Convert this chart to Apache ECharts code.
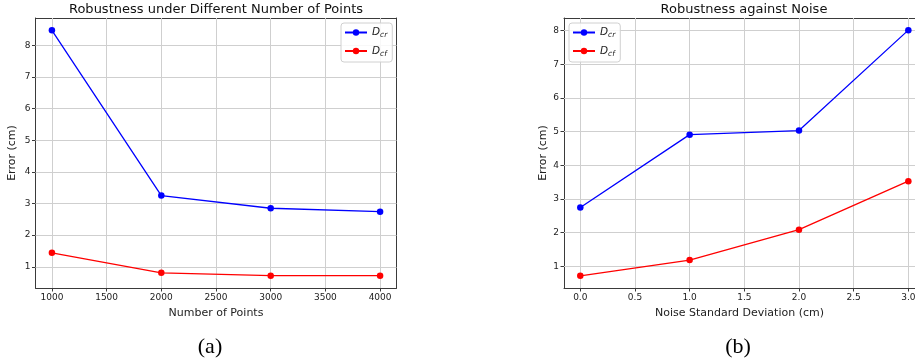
<!DOCTYPE html>
<html>
<head>
<meta charset="utf-8">
<script src="https://cdn.jsdelivr.net/npm/echarts@6/dist/echarts.min.js"></script>
<style>html,body{margin:0;padding:0;background:#fff;}#c{width:915px;height:362px;}</style>
</head>
<body>
<div id="c"></div>
<script>
const pointsX = [1000, 2000, 3000, 4000];
const pointsDcr = [8.47, 3.25, 2.85, 2.74];
const pointsDcf = [1.44, 0.81, 0.72, 0.72];
const noiseX = [0, 1, 2, 3];
const noiseDcr = [2.75, 4.91, 5.03, 8.01];
const noiseDcf = [0.72, 1.19, 2.09, 3.53];
const xTicksA = [1000, 1500, 2000, 2500, 3000, 3500, 4000];
const xTicksB = [0, 0.5, 1.0, 1.5, 2.0, 2.5, 3.0];
const yTicks = [1, 2, 3, 4, 5, 6, 7, 8];
const seriesNames = ['D_cr', 'D_cf'];
const titles = ['Robustness under Different Number of Points', 'Robustness against Noise'];
const xNames = ['Number of Points', 'Noise Standard Deviation (cm)'];
const yName = 'Error (cm)';
const captions = ['(a)', '(b)'];

const FONT = 'DejaVu Sans';
const SPINE = '#3a3a3a';
const GRIDC = '#cfcfcf';
const grids = [
  {left: 35.5, top: 18, width: 361, height: 270, outerBoundsMode: 'none', containLabel: false},
  {left: 564, top: 18, width: 351, height: 270, outerBoundsMode: 'none', containLabel: false}
];
const xRanges = [[850, 4150], [-0.149, 3.061]];
const yRanges = [[0.33, 8.86], [0.36, 8.37]];
function xAxis(i, ticks, fmt) {
  return {
    type: 'value', gridIndex: i, min: xRanges[i][0], max: xRanges[i][1], position: 'bottom',
    name: xNames[i], nameLocation: 'middle', nameGap: 20,
    nameTextStyle: {fontFamily: FONT, fontSize: 11, color: '#222'},
    axisLine: {show: true, onZero: false, lineStyle: {color: SPINE, width: 1}},
    axisTick: {show: true, length: 3.5, lineStyle: {color: SPINE}, customValues: ticks},
    axisLabel: {fontFamily: FONT, fontSize: 9, color: '#222', margin: 5, customValues: ticks, formatter: fmt, hideOverlap: false},
    splitLine: {show: false}
  };
}
function spineX(i) {
  return {
    type: 'value', gridIndex: i, min: xRanges[i][0], max: xRanges[i][1], position: 'top',
    axisLine: {show: true, onZero: false, lineStyle: {color: SPINE, width: 1}},
    axisTick: {show: false}, axisLabel: {show: false}, splitLine: {show: false}
  };
}
function yAxis(i, gap) {
  return {
    type: 'value', gridIndex: i, min: yRanges[i][0], max: yRanges[i][1], position: 'left',
    name: yName, nameLocation: 'middle', nameGap: gap,
    nameTextStyle: {fontFamily: FONT, fontSize: 11, color: '#222'},
    axisLine: {show: true, onZero: false, lineStyle: {color: SPINE, width: 1}},
    axisTick: {show: true, length: 3.5, lineStyle: {color: SPINE}, customValues: yTicks},
    axisLabel: {fontFamily: FONT, fontSize: 9, color: '#222', margin: 5, customValues: yTicks},
    splitLine: {show: false}
  };
}
function spineY(i) {
  return {
    type: 'value', gridIndex: i, min: yRanges[i][0], max: yRanges[i][1], position: 'right',
    axisLine: {show: true, onZero: false, lineStyle: {color: SPINE, width: 1}},
    axisTick: {show: false}, axisLabel: {show: false}, splitLine: {show: false}
  };
}
function gridLines(i, xt) {
  return {
    type: 'line', name: 'grid' + i, xAxisIndex: i, yAxisIndex: i, data: [], z: 1,
    silent: true, animation: false,
    markLine: {
      silent: true, symbol: 'none', animation: false, z: 1, zlevel: 0,
      label: {show: false},
      lineStyle: {color: GRIDC, width: 1, type: 'solid'},
      emphasis: {disabled: true},
      data: xt.map(v => ({xAxis: v})).concat(yTicks.map(v => ({yAxis: v})))
    }
  };
}
function series(i, name, xs, ys, color) {
  return {
    type: 'line', name: name, xAxisIndex: i, yAxisIndex: i, z: 6,
    data: xs.map((x, k) => [x, ys[k]]),
    symbol: 'circle', symbolSize: 6.5,
    lineStyle: {color: color, width: 1.3},
    itemStyle: {color: color},
    animation: false
  };
}
function legend(i, left, top) {
  return {
    orient: 'vertical', left: left, top: top, z: 8,
    data: seriesNames.map(n => ({name: n})),
    itemWidth: 22, itemHeight: 8, itemGap: 6,
    padding: [4, 5, 4, 3],
    borderColor: '#d0d0d0', borderWidth: 1, borderRadius: 3,
    backgroundColor: 'rgba(255,255,255,0.85)',
    selectedMode: false,
    formatter: function (n) { const p = n.split('_'); return '{d|' + p[0] + '}{s|' + p[1] + '}'; },
    textStyle: {
      fontFamily: FONT, color: '#222',
      rich: {
        d: {fontFamily: FONT, fontStyle: 'italic', fontSize: 10.5, lineHeight: 14, color: '#222'},
        s: {fontFamily: FONT, fontStyle: 'italic', fontSize: 7.5, lineHeight: 14, verticalAlign: 'bottom', color: '#222'}
      }
    }
  };
}
const chart = echarts.init(document.getElementById('c'), null, {renderer: 'canvas'});
const centers = [216, 744];
function title(text, x, top, font, size, color) {
  return {text: text, left: x, textAlign: 'center', top: top, padding: 0,
    textStyle: {fontFamily: font, fontSize: size, fontWeight: 'normal', color: color}};
}
chart.setOption({
  animation: false,
  backgroundColor: '#fff',
  title: [
    title(titles[0], centers[0], 3, FONT, 13, '#111'),
    title(titles[1], centers[1], 3, FONT, 13, '#111'),
    title(captions[0], 210, 336, 'Liberation Serif', 22, '#000'),
    title(captions[1], 738, 336, 'Liberation Serif', 22, '#000')
  ],
  grid: grids,
  xAxis: [
    xAxis(0, xTicksA, v => String(v)),
    xAxis(1, xTicksB, v => Number(v).toFixed(1)),
    spineX(0), spineX(1)
  ],
  yAxis: [yAxis(0, 18), yAxis(1, 15), spineY(0)],
  legend: [legend(0, 341, 23), legend(1, 569, 23)],
  series: [
    gridLines(0, xTicksA),
    gridLines(1, xTicksB),
    series(0, seriesNames[0], pointsX, pointsDcr, '#0000ff'),
    series(0, seriesNames[1], pointsX, pointsDcf, '#ff0000'),
    series(1, seriesNames[0], noiseX, noiseDcr, '#0000ff'),
    series(1, seriesNames[1], noiseX, noiseDcf, '#ff0000')
  ]
});
</script>
</body>
</html>
